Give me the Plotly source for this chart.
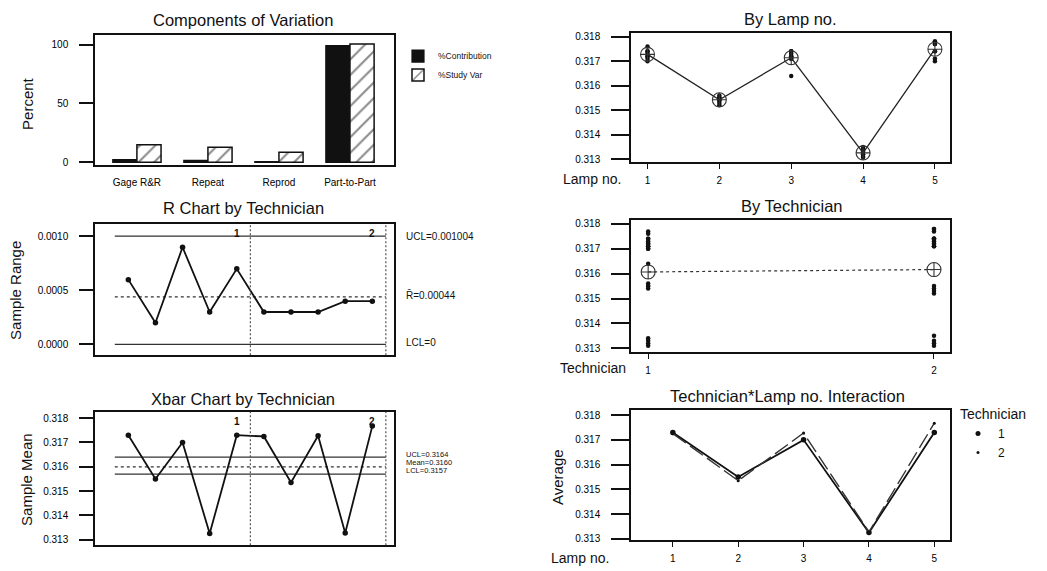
import numpy as np
import plotly.graph_objects as go

W, H = 1047, 571
FONT = "Liberation Sans, Arial, sans-serif"
INK = "#111111"

# ---- data -------------------------------------------------------------
components = ["Gage R&R", "Repeat", "Reprod", "Part-to-Part"]
pct_contribution = [2.4, 1.6, 0.7, 99.0]
pct_study_var = [15.0, 12.8, 8.6, 100.5]

lamp_numbers = [1, 2, 3, 4, 5]
technicians = [1, 2]

# four trials per lamp (rows = lamp 1..5)
trials_tech1 = [
    [0.3170, 0.3172, 0.3174, 0.3176],
    [0.3154, 0.3155, 0.3155, 0.3156],
    [0.3164, 0.3171, 0.3172, 0.3173],
    [0.3131, 0.3132, 0.3133, 0.3134],
    [0.3170, 0.3171, 0.3174, 0.3177],
]
trials_tech2 = [
    [0.3171, 0.3172, 0.3173, 0.3174],
    [0.3152, 0.3153, 0.3154, 0.3155],
    [0.3171, 0.3172, 0.3174, 0.3174],
    [0.3131, 0.3132, 0.3133, 0.3135],
    [0.3174, 0.3177, 0.3178, 0.3178],
]

r_ucl, r_bar, r_lcl = 0.001004, 0.00044, 0.0
x_ucl, x_mean, x_lcl = 0.3164, 0.3160, 0.3157

# ---- derived statistics -------------------------------------------------
t1 = np.array(trials_tech1)
t2 = np.array(trials_tech2)
subgroups = np.vstack([t1, t2])
sub_index = list(range(1, len(subgroups) + 1))
sub_means = subgroups.mean(axis=1)
sub_ranges = np.round(subgroups.max(axis=1) - subgroups.min(axis=1), 6)
n_lamps = len(lamp_numbers)
n_sub = len(subgroups)

lamp_all = np.hstack([t1, t2])          # 8 readings per lamp
lamp_means = lamp_all.mean(axis=1)
tech_all = [t1.ravel(), t2.ravel()]
tech_means = [v.mean() for v in tech_all]


def px(x, y):
    return x / W, 1 - y / H


def xdom(l, r):
    return [l / W, r / W]


def ydom(top, bottom):
    return [1 - bottom / H, 1 - top / H]


fig = go.Figure()

# ---- Components of Variation -------------------------------------------
fig.add_trace(go.Bar(
    x=components, y=pct_contribution, name="%Contribution",
    marker=dict(color=INK, line=dict(color=INK, width=1.2)),
    xaxis="x", yaxis="y", legend="legend"))
fig.add_trace(go.Bar(
    x=components, y=pct_study_var, name="%Study Var",
    marker=dict(color="white", line=dict(color=INK, width=1.5),
                pattern=dict(shape="/", fgcolor=INK, bgcolor="white",
                             size=11, solidity=0.18)),
    xaxis="x", yaxis="y", legend="legend"))

# ---- By Lamp no. -------------------------------------------------------
lamp_x = np.repeat(lamp_numbers, lamp_all.shape[1])
fig.add_trace(go.Scatter(
    x=lamp_x, y=lamp_all.ravel(), mode="markers",
    marker=dict(color=INK, size=4.5), showlegend=False,
    xaxis="x2", yaxis="y2"))
fig.add_trace(go.Scatter(
    x=lamp_numbers, y=lamp_means, mode="lines+markers",
    line=dict(color="#222", width=1.3),
    marker=dict(symbol="circle-cross-open", size=14, color="#333",
                line=dict(width=1.1)),
    showlegend=False, xaxis="x2", yaxis="y2"))

# ---- R Chart by Technician ---------------------------------------------
lim_x = [0.5, n_sub + 0.5]
for val, dash in [(r_ucl, "solid"), (r_bar, "dot"), (r_lcl, "solid")]:
    fig.add_trace(go.Scatter(
        x=lim_x, y=[val, val], mode="lines",
        line=dict(color="#333", width=1.2, dash=dash),
        showlegend=False, xaxis="x3", yaxis="y3"))
fig.add_trace(go.Scatter(
    x=sub_index, y=sub_ranges, mode="lines+markers",
    line=dict(color=INK, width=1.8), marker=dict(color=INK, size=5.5),
    showlegend=False, xaxis="x3", yaxis="y3"))

# ---- By Technician -----------------------------------------------------
for tech, vals in zip(technicians, tech_all):
    fig.add_trace(go.Scatter(
        x=[tech] * len(vals), y=vals, mode="markers",
        marker=dict(color=INK, size=4.5), showlegend=False,
        xaxis="x4", yaxis="y4"))
fig.add_trace(go.Scatter(
    x=technicians, y=tech_means, mode="lines+markers",
    line=dict(color="#333", width=1.2, dash="dot"),
    marker=dict(symbol="circle-cross-open", size=14, color="#333",
                line=dict(width=1.1)),
    showlegend=False, xaxis="x4", yaxis="y4"))

# ---- Xbar Chart by Technician ------------------------------------------
for val, dash in [(x_ucl, "solid"), (x_mean, "dot"), (x_lcl, "solid")]:
    fig.add_trace(go.Scatter(
        x=lim_x, y=[val, val], mode="lines",
        line=dict(color="#333", width=1.2, dash=dash),
        showlegend=False, xaxis="x5", yaxis="y5"))
fig.add_trace(go.Scatter(
    x=sub_index, y=sub_means, mode="lines+markers",
    line=dict(color=INK, width=1.8), marker=dict(color=INK, size=5.5),
    showlegend=False, xaxis="x5", yaxis="y5"))

# ---- Technician*Lamp no. Interaction -----------------------------------
fig.add_trace(go.Scatter(
    x=lamp_numbers, y=t1.mean(axis=1), mode="lines+markers",
    line=dict(color=INK, width=1.8), marker=dict(color=INK, size=5.5),
    showlegend=False, xaxis="x6", yaxis="y6"))
fig.add_trace(go.Scatter(
    x=lamp_numbers, y=t2.mean(axis=1), mode="lines+markers",
    line=dict(color="#333", width=1.4, dash="16px,5px"),
    marker=dict(color=INK, size=3),
    showlegend=False, xaxis="x6", yaxis="y6"))
# legend keys (symbol only)
fig.add_trace(go.Scatter(x=[None], y=[None], mode="markers", name="1",
                         marker=dict(color=INK, size=5),
                         xaxis="x6", yaxis="y6", legend="legend2"))
fig.add_trace(go.Scatter(x=[None], y=[None], mode="markers", name="2",
                         marker=dict(color=INK, size=3),
                         xaxis="x6", yaxis="y6", legend="legend2"))

# ---- axes --------------------------------------------------------------
tick_font = dict(family=FONT, size=10, color="#000")
frame = dict(showline=True, mirror=True, linecolor="#111", linewidth=1.5,
             showgrid=False, zeroline=False, tickfont=tick_font)

XL, XR = xdom(95, 394), xdom(631, 950)


def yax(dom, rng, vals, fmt, ticklen, anchor):
    return dict(frame, domain=dom, range=rng, tickvals=vals, tickformat=fmt,
                ticks="outside", ticklen=ticklen, tickwidth=1.6,
                tickcolor="#111", ticklabelstandoff=9, anchor=anchor)


mm_vals = [0.313, 0.314, 0.315, 0.316, 0.317, 0.318]

fig.update_layout(
    xaxis=dict(frame, domain=XL, range=[-0.59, 3.62], ticks="",
               ticklabelstandoff=7, anchor="y"),
    yaxis=yax(ydom(33, 165), [-2.5, 108.4], [0, 50, 100], "d", 14, "x"),

    xaxis2=dict(frame, domain=XR, range=[0.77, 5.21], tickvals=lamp_numbers,
                ticks="outside", ticklen=5, tickcolor="#111",
                ticklabelstandoff=3, anchor="y2"),
    yaxis2=yax(ydom(31, 162), [0.31288, 0.31816], mm_vals, ".3f", 18, "x2"),

    xaxis3=dict(frame, domain=XL, range=[-0.23, 10.8], showticklabels=False,
                ticks="", anchor="y3"),
    yaxis3=yax(ydom(224, 357), [-0.000101, 0.001119], [0, 0.0005, 0.001],
               ".4f", 14, "x3"),

    xaxis4=dict(frame, domain=XR, range=[0.94, 2.056], tickvals=technicians,
                ticks="outside", ticklen=5, tickcolor="#111",
                ticklabelstandoff=3, anchor="y4"),
    yaxis4=yax(ydom(220, 354), [0.31284, 0.31817], mm_vals, ".3f", 18, "x4"),

    xaxis5=dict(frame, domain=XL, range=[-0.23, 10.8], showticklabels=False,
                ticks="", anchor="y5"),
    yaxis5=yax(ydom(414, 549), [0.31277, 0.31827], mm_vals, ".3f", 14, "x5"),

    xaxis6=dict(frame, domain=XR, range=[0.36, 5.24], tickvals=lamp_numbers,
                ticks="outside", ticklen=5, tickcolor="#111",
                ticklabelstandoff=3, anchor="y6"),
    yaxis6=yax(ydom(412, 544), [0.31294, 0.31822], mm_vals, ".3f", 18, "x6"),
)

# ---- group separators on the control charts ----------------------------
shapes = []
for ax in ["x3", "x5"]:
    ya = "y3" if ax == "x3" else "y5"
    for k in range(1, len(technicians) + 1):
        sx = k * n_lamps + 0.5
        shapes.append(dict(type="line", xref=ax, yref=f"{ya} domain",
                           x0=sx, x1=sx, y0=0, y1=1,
                           line=dict(color="#444", width=1.1, dash="2px,2px")))

# ---- text --------------------------------------------------------------
ann = []


def text(x, y, s, size=10, angle=0, xanchor="center", yanchor="middle"):
    ax_, ay_ = px(x, y)
    ann.append(dict(x=ax_, y=ay_, xref="paper", yref="paper", text=s,
                    showarrow=False, textangle=angle, xanchor=xanchor,
                    yanchor=yanchor,
                    font=dict(family=FONT, size=size, color=INK)))


text(243, 18, "Components of Variation", 16.5)
text(243, 208, "R Chart by Technician", 16.5)
text(243, 401, "Xbar Chart by Technician", 16.5)
text(790, 17, "By Lamp no.", 16.5)
text(792, 206, "By Technician", 16.5)
text(787, 398, "Technician*Lamp no. Interaction", 16.5)

text(28, 103, "Percent", 15, -90)
text(16, 292, "Sample Range", 15, -90)
text(27, 483, "Sample Mean", 15, -90)
text(558, 480, "Average", 15, -90)

text(592, 179, "Lamp no.", 14)
text(593, 370, "Technician", 14)
text(580, 562, "Lamp no.", 14)

# limit labels on the control charts
for ax, ya, items, fsize in [
    ("x3", "y3", [(r_ucl, f"UCL={r_ucl:.6f}", 0), (r_bar, f"R\u0304={r_bar:.5f}", 2),
                  (r_lcl, f"LCL={r_lcl:g}", 2)], 10),
    ("x5", "y5", [(x_ucl, f"UCL={x_ucl:.4f}", 3), (x_mean, f"Mean={x_mean:.4f}", 4.5),
                  (x_lcl, f"LCL={x_lcl:.4f}", 4)], 7.5),
]:
    for val, s, shift in items:
        ann.append(dict(x=1.033, y=val, xref=f"{ax} domain", yref=ya, text=s,
                        showarrow=False, xanchor="left", yanchor="middle",
                        yshift=shift,
                        font=dict(family=FONT, size=fsize, color=INK)))
    for k, tech in enumerate(technicians, start=1):
        ann.append(dict(x=k * n_lamps, y=0.98, xref=ax, yref=f"{ya} domain",
                        text=f"<b>{tech}</b>", showarrow=False, yanchor="top",
                        font=dict(family=FONT, size=10, color=INK)))

fig.update_layout(
    width=W, height=H, margin=dict(l=0, r=0, t=0, b=0),
    paper_bgcolor="white", plot_bgcolor="white",
    barmode="group", bargap=0.32, bargroupgap=0,
    shapes=shapes, annotations=ann,
    legend=dict(x=px(398, 0)[0], y=px(0, 40)[1], xanchor="left",
                yanchor="top", bgcolor="rgba(0,0,0,0)",
                font=dict(family=FONT, size=8.5, color=INK),
                tracegroupgap=0, itemwidth=30),
    legend2=dict(x=px(958, 0)[0], y=px(0, 403)[1], xanchor="left",
                 yanchor="top", bgcolor="rgba(0,0,0,0)",
                 title=dict(text="Technician",
                            font=dict(family=FONT, size=14, color=INK)),
                 font=dict(family=FONT, size=12, color=INK),
                 tracegroupgap=0, itemwidth=30),
    font=dict(family=FONT, color=INK),
)

fig.write_html("out.html")
